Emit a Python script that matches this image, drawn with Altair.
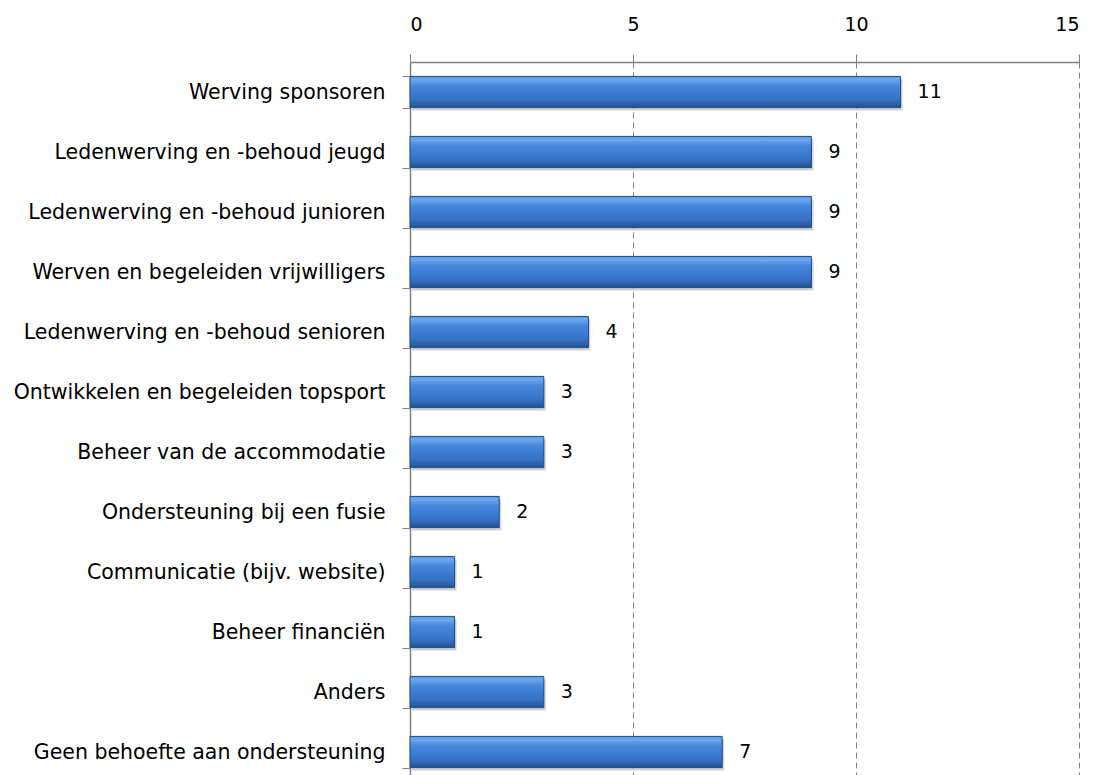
import altair as alt
import pandas as pd

categories = [
    "Werving sponsoren",
    "Ledenwerving en -behoud jeugd",
    "Ledenwerving en -behoud junioren",
    "Werven en begeleiden vrijwilligers",
    "Ledenwerving en -behoud senioren",
    "Ontwikkelen en begeleiden topsport",
    "Beheer van de accommodatie",
    "Ondersteuning bij een fusie",
    "Communicatie (bijv. website)",
    "Beheer financiën",
    "Anders",
    "Geen behoefte aan ondersteuning",
]
values = [11, 9, 9, 9, 4, 3, 3, 2, 1, 1, 3, 7]
x_ticks = [0, 5, 10, 15]

df = pd.DataFrame({"cat": categories, "val": values})

FONT = "DejaVu Sans"

y_enc = alt.Y(
    "cat:N",
    sort=categories,
    title=None,
    scale=alt.Scale(paddingInner=0.48, paddingOuter=0.24),
    axis=alt.Axis(
        labelFontSize=20.5,
        labelFont=FONT,
        labelColor="#000000",
        labelPadding=17,
        labelLimit=500,
        tickBand="extent",
        tickSize=8,
        tickColor="#808080",
        domainColor="#808080",
        domainWidth=1.5,
        grid=False,
    ),
)
x_enc = alt.X(
    "val:Q",
    title=None,
    scale=alt.Scale(domain=[0, 15], nice=False),
    axis=alt.Axis(
        orient="top",
        values=x_ticks,
        labelFontSize=19,
        labelFont=FONT,
        labelColor="#000000",
        labelPadding=20,
        tickSize=8,
        tickColor="#808080",
        domainColor="#808080",
        domainWidth=1.5,
        grid=True,
        gridColor="#7f7f7f",
        gridDash=[6, 4],
        gridWidth=1,
    ),
)

grad = alt.Gradient(
    gradient="linear",
    x1=0, x2=0, y1=0, y2=1,
    stops=[
        alt.GradientStop(color="#5b97e2", offset=0),
        alt.GradientStop(color="#6ca8ef", offset=0.1),
        alt.GradientStop(color="#4688dc", offset=0.3),
        alt.GradientStop(color="#3572c6", offset=0.75),
        alt.GradientStop(color="#24508f", offset=1),
    ],
)

base = alt.Chart(df)

shadow = base.mark_bar(color="#000000", opacity=0.18, xOffset=2, yOffset=3).encode(
    x=x_enc, y=y_enc
)
bars = base.mark_bar(color=grad, stroke="#1f4b85", strokeWidth=1).encode(
    x=x_enc, y=y_enc
)
labels = base.mark_text(
    align="left", baseline="middle", dx=17, fontSize=19, font=FONT, color="#000000"
).encode(x=x_enc, y=y_enc, text="val:Q")

chart = (
    alt.layer(shadow, bars, labels)
    .properties(
        width=669,
        height=720,
        autosize=alt.AutoSizeParams(type="none"),
        padding={"left": 402, "top": 54, "right": 12, "bottom": 0},
        background="#ffffff",
    )
    .configure_view(stroke=None)
)

chart.save("out.html", embed_options={"renderer": "svg", "actions": False})
